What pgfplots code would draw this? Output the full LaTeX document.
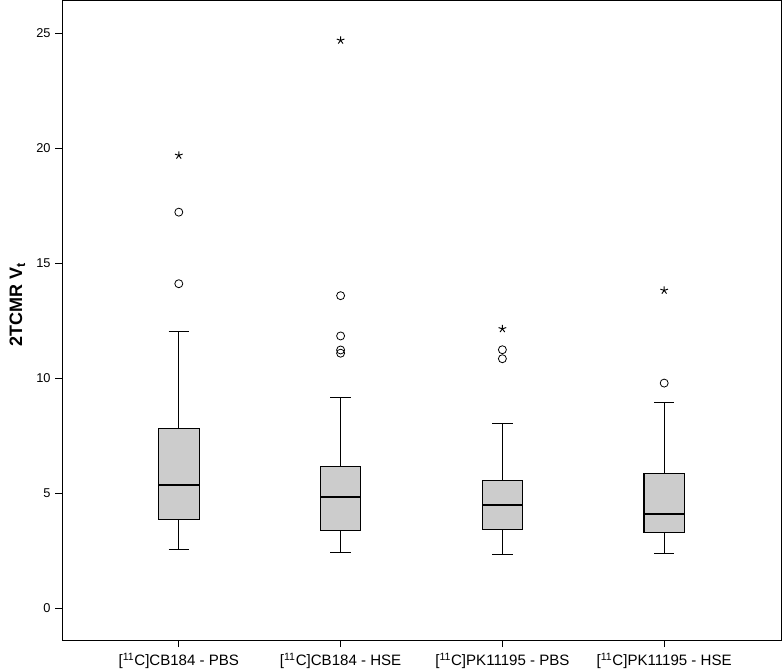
\documentclass[border=0pt]{standalone}
\usepackage{fontspec}
\setmainfont{Liberation Sans}
\usepackage{pgfplots}
\pgfplotsset{compat=1.18}
\usepgfplotslibrary{statistics}
\definecolor{boxgray}{HTML}{CCCCCC}
\begin{document}
\begin{tikzpicture}
\begin{axis}[
  name=ax,
  scale only axis,
  width=539.25pt, height=480pt,
  xmin=0.278, xmax=4.722,
  ymin=-1.39, ymax=26.43,
  xtick={1,2,3,4},
  xticklabels={{[\textsuperscript{11}C]CB184 - PBS},{[\textsuperscript{11}C]CB184 - HSE},{[\textsuperscript{11}C]PK11195 - PBS},{[\textsuperscript{11}C]PK11195 - HSE}},
  ytick={0,5,10,15,20,25},
  tick align=outside, tick pos=left,
  major tick length=5pt,
  tick style={black, line width=0.6pt},
  axis line style={black, line width=0.7pt},
  /pgf/number format/assume math mode=true,
  y tick label style={font=\fontsize{9.6}{12}\selectfont},
  x tick label style={font=\fontsize{11.3}{13}\selectfont, yshift=-1pt},
  ylabel={\textbf{2TCMR V\textsubscript{t}}},
  every axis y label/.style={at={(axis description cs:-0.062,0.525)}, rotate=90, anchor=center, font=\fontsize{13.5}{15}\selectfont},
  boxplot/draw direction=y,
  boxplot/box extend=0.25,
  boxplot/whisker extend=0.125,
  boxplot/every median/.style={line width=1.5pt, black},
  boxplot/every box/.style={fill=boxgray, draw=black, line width=0.8pt},
  boxplot/every whisker/.style={draw=black, line width=0.6pt},
]
% outliers (circles) are the table rows
\addplot[boxplot prepared={lower whisker=2.57, lower quartile=3.86, median=5.35, upper quartile=7.81, upper whisker=12.06, draw position=1},
  mark=o, mark size=3pt, mark options={black, line width=0.6pt}]
  table[row sep=\\, y index=0] {17.23\\14.12\\};
\addplot[boxplot prepared={lower whisker=2.44, lower quartile=3.41, median=4.87, upper quartile=6.18, upper whisker=9.19, draw position=2},
  mark=o, mark size=3pt, mark options={black, line width=0.6pt}]
  table[row sep=\\, y index=0] {13.6\\11.85\\11.24\\11.1\\};
\addplot[boxplot prepared={lower whisker=2.35, lower quartile=3.43, median=4.48, upper quartile=5.55, upper whisker=8.06, draw position=3},
  mark=o, mark size=3pt, mark options={black, line width=0.6pt}]
  table[row sep=\\, y index=0] {11.25\\10.86\\};
\addplot[boxplot prepared={lower whisker=2.38, lower quartile=3.29, median=4.12, upper quartile=5.86, upper whisker=8.94, draw position=4},
  mark=o, mark size=3pt, mark options={black, line width=0.6pt}]
  table[row sep=\\, y index=0] {9.8\\};
% extreme values (stars)
\addplot[only marks, mark=star, mark size=3pt, mark options={black, line width=0.7pt}]
  coordinates {(1,19.7) (2,24.7) (3,12.16) (4,13.83)};
\end{axis}
\pgfresetboundingbox
\path ([shift={(-46.5pt,-22.5pt)}]ax.south west) rectangle ([shift={(0.75pt,0.4pt)}]ax.north east);
\end{tikzpicture}
\end{document}
